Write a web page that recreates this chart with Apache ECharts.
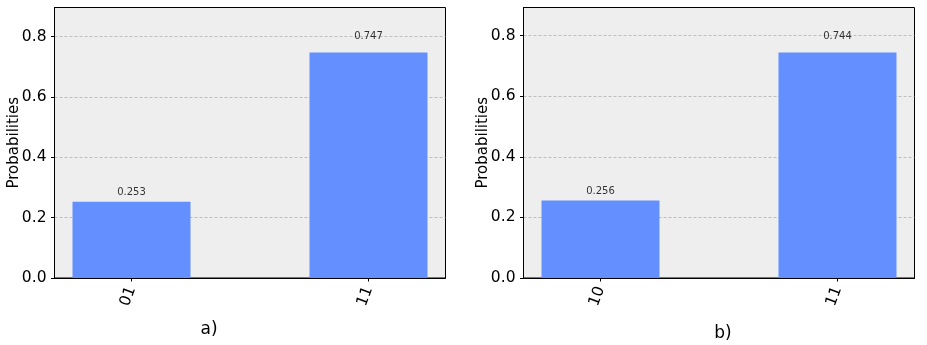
<!DOCTYPE html>
<html>
<head>
<meta charset="utf-8">
<script src="https://cdn.jsdelivr.net/npm/echarts@6/dist/echarts.min.js"></script>
<style>
  html, body { margin: 0; padding: 0; background: #fff; }
  #chart { width: 927px; height: 345px; }
</style>
</head>
<body>
<div id="chart"></div>
<script>
// data for the two histograms
const statesA = ['01', '11']
const probsA = [0.253, 0.747]
const statesB = ['10', '11']
const probsB = [0.256, 0.744]
const captions = ['a)', 'b)']
const yTicks = [0, 0.2, 0.4, 0.6, 0.8]

const font = 'DejaVu Sans'
const barColor = '#648fff'

let myChart = echarts.init(document.getElementById('chart'))

function makeX(idx, states) {
  return {
    gridIndex: idx,
    type: 'value',
    min: -0.325,
    max: 1.325,
    splitLine: {show: false},
    axisLine: {show: true, onZero: false, lineStyle: {color: '#000', width: 1}},
    axisTick: {
      show: true,
      length: 3.5,
      customValues: [0, 1],
      lineStyle: {color: '#000', width: 1}
    },
    axisLabel: {
      customValues: [0, 1],
      rotate: 70,
      margin: 9,
      fontFamily: font,
      fontSize: 15.5,
      color: '#000',
      formatter: v => states[Math.round(v)]
    }
  }
}

function makeY(idx, probs) {
  return {
    gridIndex: idx,
    type: 'value',
    min: 0,
    max: Math.max(...probs) * 1.2,
    interval: 0.2,
    name: 'Probabilities',
    nameLocation: 'middle',
    nameGap: 33,
    nameMoveOverlap: false,
    nameTextStyle: {fontFamily: font, fontSize: 15, color: '#000'},
    axisLine: {show: true, onZero: false, lineStyle: {color: '#000', width: 1}},
    axisTick: {show: true, length: 3.5, customValues: yTicks, lineStyle: {color: '#000', width: 1}},
    axisLabel: {
      fontFamily: font,
      fontSize: 15.5,
      color: '#000',
      margin: 8,
      customValues: yTicks,
      formatter: v => v.toFixed(1)
    },
    splitLine: {
      show: true,
      lineStyle: {color: '#b0b0b0', type: [3, 2], width: 0.8}
    }
  }
}

function barSeries(idx, probs) {
  return {
    type: 'bar',
    xAxisIndex: idx,
    yAxisIndex: idx,
    barWidth: 118,
    itemStyle: {color: barColor},
    data: probs.map((p, i) => [i, p]),
    z: 2
  }
}

// value labels sit at 1.05 * value like qiskit does
function labelSeries(idx, probs) {
  return {
    type: 'scatter',
    xAxisIndex: idx,
    yAxisIndex: idx,
    symbolSize: 0,
    silent: true,
    z: 3,
    label: {
      show: true,
      position: 'top',
      distance: 0,
      fontFamily: font,
      fontSize: 10,
      color: '#000',
      formatter: p => probs[p.dataIndex].toFixed(3)
    },
    data: probs.map((p, i) => [i, p * 1.05])
  }
}

myChart.setOption({
  animation: false,
  title: [
    {text: captions[0], left: 204, top: 316, textAlign: 'center',
      textStyle: {fontFamily: font, fontSize: 17, fontWeight: 'normal', color: '#000'}},
    {text: captions[1], left: 718, top: 320, textAlign: 'center',
      textStyle: {fontFamily: font, fontSize: 17, fontWeight: 'normal', color: '#000'}}
  ],
  grid: [
    {left: 54.5, top: 7.5, width: 391, height: 270.5, show: true,
      backgroundColor: '#eeeeee', borderColor: '#000', borderWidth: 1},
    {left: 523.5, top: 7.5, width: 391, height: 270.5, show: true,
      backgroundColor: '#eeeeee', borderColor: '#000', borderWidth: 1}
  ],
  xAxis: [makeX(0, statesA), makeX(1, statesB)],
  yAxis: [makeY(0, probsA), makeY(1, probsB)],
  series: [
    barSeries(0, probsA),
    labelSeries(0, probsA),
    barSeries(1, probsB),
    labelSeries(1, probsB)
  ]
})
</script>
</body>
</html>
